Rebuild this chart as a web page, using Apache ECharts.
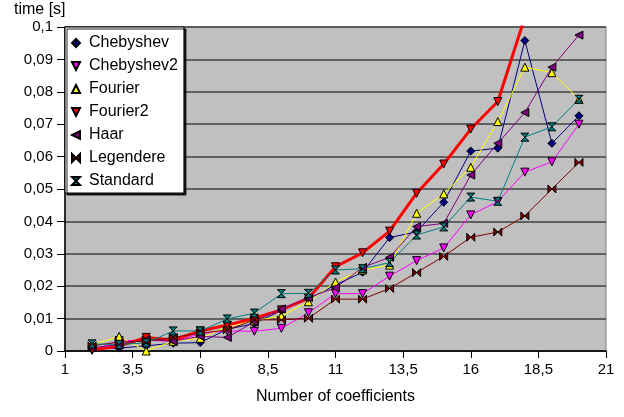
<!DOCTYPE html>
<html>
<head>
<meta charset="utf-8">
<script src="https://cdn.jsdelivr.net/npm/echarts@6/dist/echarts.min.js"></script>
<style>
  html, body { margin: 0; padding: 0; background: #fff; }
  #chart { width: 624px; height: 417px; }
</style>
</head>
<body>
<div id="chart"></div>
<script>
// Number of coefficients (x) and measured times in seconds for each method
const coefficients = [2, 3, 4, 5, 6, 7, 8, 9, 10, 11, 12, 13, 14, 15, 16, 17, 18, 19, 20];
const chebyshev  = [0.0006, 0.0009, 0.0016, 0.0024, 0.0026, 0.0067, 0.0085, 0.0125, 0.0160, 0.0204, 0.0243, 0.0350, 0.0368, 0.0459, 0.0617, 0.0626, 0.0958, 0.0641, 0.0726];
const chebyshev2 = [0.0002, 0.0032, 0.0033, 0.0030, 0.0053, 0.0062, 0.0061, 0.0070, 0.0118, 0.0177, 0.0177, 0.0231, 0.0279, 0.0318, 0.0420, 0.0461, 0.0552, 0.0584, 0.0700];
const fourier    = [0.0019, 0.0045, 0.0000, 0.0030, 0.0039, 0.0075, 0.0093, 0.0108, 0.0152, 0.0213, 0.0250, 0.0265, 0.0425, 0.0485, 0.0567, 0.0708, 0.0876, 0.0859, 0.0777];
const fourier2   = [0.0004, 0.0015, 0.0042, 0.0034, 0.0062, 0.0080, 0.0101, 0.0127, 0.0163, 0.0260, 0.0303, 0.0370, 0.0487, 0.0577, 0.0685, 0.0770, 0.1030, null, null];
const haar       = [0.0010, 0.0020, 0.0035, 0.0030, 0.0045, 0.0042, 0.0090, 0.0130, 0.0165, 0.0195, 0.0258, 0.0289, 0.0384, 0.0394, 0.0543, 0.0641, 0.0736, 0.0876, 0.0975];
const legendere  = [0.0016, 0.0028, 0.0030, 0.0042, 0.0055, 0.0065, 0.0096, 0.0096, 0.0101, 0.0160, 0.0160, 0.0193, 0.0242, 0.0292, 0.0351, 0.0367, 0.0417, 0.0500, 0.0582];
const standard   = [0.0022, 0.0020, 0.0025, 0.0062, 0.0062, 0.0099, 0.0117, 0.0177, 0.0178, 0.0250, 0.0254, 0.0273, 0.0358, 0.0383, 0.0475, 0.0462, 0.0660, 0.0692, 0.0777];

// Marker shapes
const SYM = {
  diamond: 'diamond',
  down: 'path://M0,0 L10,0 L5,10 Z',
  up: 'path://M5,0 L10,10 L0,10 Z',
  left: 'path://M10,0 L10,10 L0,5 Z',
  bowtie: 'path://M0,0 L5,5 L0,10 Z M10,0 L5,5 L10,10 Z',
  hourglass: 'path://M0,0 L10,0 L5,5 Z M0,10 L10,10 L5,5 Z'
};

const seriesDefs = [
  { name: 'Chebyshev',  data: chebyshev,  color: '#000080', symbol: SYM.diamond,   size: 8, width: 1 },
  { name: 'Chebyshev2', data: chebyshev2, color: '#FF00FF', symbol: SYM.down,      size: 8, width: 1 },
  { name: 'Fourier',    data: fourier,    color: '#FFFF00', symbol: SYM.up,        size: 8, width: 1 },
  { name: 'Fourier2',   data: fourier2,   color: '#FF0000', symbol: SYM.down,      size: 8, width: 3 },
  { name: 'Haar',       data: haar,       color: '#800080', symbol: SYM.left,      size: 8, width: 1 },
  { name: 'Legendere',  data: legendere,  color: '#800000', symbol: SYM.bowtie,    size: 8, width: 1 },
  { name: 'Standard',   data: standard,   color: '#008080', symbol: SYM.hourglass, size: 8, width: 1 }
];

const FONT = 'Liberation Sans, Arial, sans-serif';
const comma = v => String(Math.round(v * 1000) / 1000).replace('.', ',');

const chart = echarts.init(document.getElementById('chart'), null, { renderer: 'canvas' });

chart.setOption({
  animation: false,
  backgroundColor: '#fff',
  textStyle: { fontFamily: FONT, color: '#000' },
  grid: {
    left: 65, right: 18, top: 27, bottom: 66,
    show: true, backgroundColor: '#C0C0C0', borderColor: '#808080', borderWidth: 1
  },
  graphic: [{
    type: 'text', left: 14, top: 2,
    style: { text: 'time [s]', fontFamily: FONT, fontSize: 16, fill: '#000' }
  }],
  legend: {
    orient: 'vertical',
    left: 65, top: 27,
    padding: [8, 6, 4, 6],
    itemGap: 7,
    itemWidth: 8, itemHeight: 8,
    backgroundColor: '#fff',
    borderColor: '#000', borderWidth: 1,
    shadowColor: 'rgba(0,0,0,0.85)', shadowOffsetX: 2, shadowOffsetY: 2, shadowBlur: 0,
    lineStyle: { opacity: 0, width: 0 },
    textStyle: { fontFamily: FONT, fontSize: 16, lineHeight: 16, color: '#000', padding: [0, 0, 0, 4] },
    data: seriesDefs.map(s => ({ name: s.name, icon: s.symbol }))
  },
  xAxis: {
    type: 'value', min: 1, max: 21, interval: 2.5,
    name: 'Number of coefficients', nameLocation: 'middle', nameGap: 38,
    nameTextStyle: { fontFamily: FONT, fontSize: 16, color: '#000' },
    axisLine: { onZero: false, lineStyle: { color: '#000', width: 1.5 } },
    axisTick: { show: true, length: 7, lineStyle: { color: '#000' } },
    axisLabel: { margin: 11, fontFamily: FONT, fontSize: 15, color: '#000', formatter: comma },
    splitLine: { show: false }
  },
  yAxis: {
    type: 'value', min: 0, max: 0.1, interval: 0.01,
    axisLine: { show: true, lineStyle: { color: '#000', width: 1.5 } },
    axisTick: { show: true, length: 8, lineStyle: { color: '#000' } },
    axisLabel: { margin: 12, fontFamily: FONT, fontSize: 15, color: '#000', formatter: comma },
    splitLine: { show: true, lineStyle: { color: '#404040', width: 1.5 } }
  },
  series: seriesDefs.map(s => ({
    name: s.name,
    type: 'line',
    data: coefficients.map((x, i) => [x, s.data[i]]),
    symbol: s.symbol,
    symbolSize: s.size,
    showAllSymbol: true,
    clip: true,
    connectNulls: false,
    lineStyle: { color: s.color, width: s.width },
    itemStyle: { color: s.color, borderColor: '#000', borderWidth: 1 },
    emphasis: { disabled: true }
  }))
});
</script>
</body>
</html>
